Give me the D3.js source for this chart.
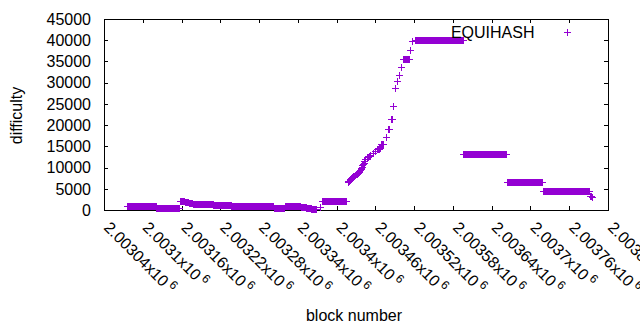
<!DOCTYPE html>
<html><head><meta charset="utf-8">
<script src="https://cdn.jsdelivr.net/npm/d3@7"></script>
<style>
html,body{margin:0;padding:0;background:#fff;}
svg{display:block;font-family:"Liberation Sans",Arial,sans-serif;}
</style>
</head><body>
<svg id="chart" width="640" height="330"></svg>
<script>
const seriesName = "EQUIHASH";
const xTitle = "block number";
const yTitle = "difficulty";
// difficulty per block, starting at firstBlock (null = no point drawn)
const firstBlock = 2003076;
const difficulty = [
  // 2003076 - 2003120
  850,850,850,850,850,850,850,850,850,850,
  850,850,850,850,850,850,850,850,850,850,
  850,850,850,850,850,850,850,850,850,850,
  850,850,850,850,850,850,850,850,850,850,
  850,850,850,850,850,
  // 2003121 - 2003156
  400,400,400,400,400,400,400,400,400,400,
  400,400,400,400,400,400,400,400,400,400,
  400,400,400,400,400,400,400,400,400,400,
  400,400,400,400,400,400,
  // 2003157 - 2003176
  2050,2050,2050,2050,2050,2050,2050,2050,
  1900,1900,1900,1900,1900,1900,
  1700,1700,1700,1700,1700,1700,
  // 2003177 - 2003208
  1450,1450,1450,1450,1450,1450,1450,1450,1450,1450,
  1450,1450,1450,1450,1450,1450,1450,1450,1450,1450,
  1450,1450,1450,1450,1450,1450,1450,1450,1450,1450,
  1450,1450,
  // 2003209 - 2003236
  1280,1280,1280,1280,1280,1280,1280,1280,1280,1280,
  1280,1280,1280,1280,1280,1280,1280,1280,1280,1280,
  1280,1280,1280,1280,1280,1280,1280,1280,
  // 2003237 - 2003302
  1050,1050,1050,1050,1050,1050,1050,1050,1050,1050,
  1050,1050,1050,1050,1050,1050,1050,1050,1050,1050,
  1050,1050,1050,1050,1050,1050,1050,1050,1050,1050,
  1050,1050,1050,1050,1050,1050,1050,1050,1050,1050,
  1050,1050,1050,1050,1050,1050,1050,1050,1050,1050,
  1050,1050,1050,1050,1050,1050,1050,1050,1050,1050,
  1050,1050,1050,1050,1050,1050,
  // 2003303 - 2003319
  400,400,400,400,400,400,400,400,400,400,
  400,400,400,400,400,400,400,
  // 2003320 - 2003344
  900,900,900,900,900,900,900,900,900,900,
  900,900,900,900,900,900,900,900,900,900,
  900,900,900,900,900,
  // 2003345 - 2003360
  650,650,650,650,650,650,650,650,
  560,560,560,560,560,560,560,560,
  // 2003361 - 2003368
  350,280,220,180,150,150,170,200,
  // 2003369 - 2003377
  null,null,null,null,null,770,null,null,null,
  // 2003378 - 2003415
  2050,2050,2050,2050,2050,2050,2050,2050,2050,2050,
  2050,2050,2050,2050,2050,2050,2050,2050,2050,2050,
  2050,2050,2050,2050,2050,2050,2050,2050,2050,2050,
  2050,2050,2050,2050,2050,2050,2050,2050,
  // 2003416
  null,
  // 2003417 - 2003520 (ramp)
  6630,6800,6950,7100,7300,7500,7600,7700,7800,7900,
  8040,8150,8250,8400,8500,8600,8800,9000,9200,9380,
  9650,9950,10240,10500,10750,11020,11450,11950,null,null,
  12550,12600,12600,12650,12650,12950,null,null,null,null,
  13430,null,null,13900,null,null,14400,14450,14460,14500,
  14500,null,15600,15630,15650,15650,null,null,null,null,
  17280,null,19100,19150,19200,null,null,21450,21500,21550,
  null,24600,null,null,28760,null,30310,null,null,31700,
  31750,null,null,33680,null,35560,35560,35560,35560,35560,
  35560,35560,35560,35560,35560,35560,null,37580,null,null,
  39770,null,null,null,
  // 2003521 - 2003595
  40050,40050,40050,40050,40050,40050,40050,40050,40050,40050,
  40050,40050,40050,40050,40050,40050,40050,40050,40050,40050,
  40050,40050,40050,40050,40050,40050,40050,40050,40050,40050,
  40050,40050,40050,40050,40050,40050,40050,40050,40050,40050,
  40050,40050,40050,40050,40050,40050,40050,40050,40050,40050,
  40050,40050,40050,40050,40050,40050,40050,40050,40050,40050,
  40050,40050,40050,40050,40050,40050,40050,40050,40050,40050,
  40050,40050,40050,40050,40050,
  // 2003596 - 2003662
  13290,13290,13290,13290,13290,13290,13290,13290,13290,13290,
  13290,13290,13290,13290,13290,13290,13290,13290,13290,13290,
  13290,13290,13290,13290,13290,13290,13290,13290,13290,13290,
  13290,13290,13290,13290,13290,13290,13290,13290,13290,13290,
  13290,13290,13290,13290,13290,13290,13290,13290,13290,13290,
  13290,13290,13290,13290,13290,13290,13290,13290,13290,13290,
  13290,13290,13290,13290,13290,13290,13290,
  // 2003663 - 2003718
  6490,6490,6490,6490,6490,6490,6490,6490,6490,6490,
  6490,6490,6490,6490,6490,6490,6490,6490,6490,6490,
  6490,6490,6490,6490,6490,6490,6490,6490,6490,6490,
  6490,6490,6490,6490,6490,6490,6490,6490,6490,6490,
  6490,6490,6490,6490,6490,6490,6490,6490,6490,6490,
  6490,6490,6490,6490,6490,6490,
  // 2003719 - 2003791
  4380,4380,4380,4380,4380,4380,4380,4380,4380,4380,
  4380,4380,4380,4380,4380,4380,4380,4380,4380,4380,
  4380,4380,4380,4380,4380,4380,4380,4380,4380,4380,
  4380,4380,4380,4380,4380,4380,4380,4380,4380,4380,
  4380,4380,4380,4380,4380,4380,4380,4380,4380,4380,
  4380,4380,4380,4380,4380,4380,4380,4380,4380,4380,
  4380,4380,4380,4380,4380,4380,4380,4380,4380,4380,
  4380,4380,4380,
  // 2003792 - 2003795
  3300,3250,3200,3150
];
const xTickValues = [2003040,2003100,2003160,2003220,2003280,2003340,2003400,2003460,2003520,2003580,2003640,2003700,2003760,2003820];
const xTickMantissas = ["2.00304","2.0031","2.00316","2.00322","2.00328","2.00334","2.0034","2.00346","2.00352","2.00358","2.00364","2.0037","2.00376","2.00382"];
const xTickExponent = "6";
const yTickValues = [0,5000,10000,15000,20000,25000,30000,35000,40000,45000];
const xDomain = [2003040, 2003820];
const yDomain = [0, 45000];

const color = "#9400d3";
const svg = d3.select("#chart");
const x = d3.scaleLinear().domain(xDomain).range([104, 608]);
const y = d3.scaleLinear().domain(yDomain).range([210, 19]);

// ticks (inward, mirrored)
function styleAxis(g){
  g.select(".domain").remove();
  g.selectAll(".tick line").attr("stroke","#000").attr("shape-rendering","crispEdges");
  g.attr("font-family",null).attr("font-size",null);
}
svg.append("g").attr("transform","translate(0,210)")
  .call(d3.axisBottom(x).tickValues(xTickValues).tickSizeInner(-4).tickSizeOuter(0).tickFormat(""))
  .call(styleAxis);
svg.append("g").attr("transform","translate(0,19)")
  .call(d3.axisTop(x).tickValues(xTickValues).tickSizeInner(-4).tickSizeOuter(0).tickFormat(""))
  .call(styleAxis);
svg.append("g").attr("transform","translate(104,0)")
  .call(d3.axisLeft(y).tickValues(yTickValues).tickSizeInner(-4).tickSizeOuter(0).tickPadding(13).tickFormat(d3.format("d")))
  .call(styleAxis)
  .call(g=>g.selectAll(".tick text").attr("fill","#000").attr("font-size","16px").attr("dy","0.33em"));
svg.append("g").attr("transform","translate(608,0)")
  .call(d3.axisRight(y).tickValues(yTickValues).tickSizeInner(-4).tickSizeOuter(0).tickFormat(""))
  .call(styleAxis);

// border
svg.append("rect").attr("x",104.5).attr("y",19.5).attr("width",504).attr("height",191)
  .attr("fill","none").attr("stroke","#000").attr("stroke-width",1).attr("shape-rendering","crispEdges");

// x tick labels, rotated
const xl = svg.append("g").attr("font-size","16px").attr("fill","#000");
xTickValues.forEach((d,i)=>{
  const t = xl.append("text")
    .attr("transform",`translate(${x(d)-1},228.5) rotate(45)`);
  t.append("tspan").text(xTickMantissas[i] + "x10");
  t.append("tspan").attr("dx",3).attr("dy",-6).attr("font-size","12px").text(xTickExponent);
});

// axis titles
svg.append("text").attr("x",354).attr("y",321).attr("text-anchor","middle")
  .attr("font-size","16px").text(xTitle);
svg.append("text").attr("transform","translate(22,115.5) rotate(-90)").attr("text-anchor","middle")
  .attr("font-size","16px").text(yTitle);

// data points (+ markers)
const points = difficulty.map((v,i)=>({block:firstBlock+i, value:v})).filter(d=>d.value!==null);
function plusPath(cx, cy){
  const px = Math.round(cx), py = Math.round(cy);
  return `M${px-3},${py+0.5}H${px+4}M${px+0.5},${py-3}V${py+4}`;
}
svg.append("g").selectAll("path").data(points).join("path")
  .attr("d", d=>plusPath(x(d.block), y(d.value)))
  .attr("stroke", color).attr("stroke-width",1).attr("fill","none")
  .attr("shape-rendering","crispEdges");

// legend
svg.append("text").attr("x",534.5).attr("y",37.5).attr("text-anchor","end")
  .attr("font-size","16px").text(seriesName);
svg.append("path").attr("d", plusPath(567,32)).attr("stroke",color).attr("fill","none")
  .attr("shape-rendering","crispEdges");
</script>
</body></html>
